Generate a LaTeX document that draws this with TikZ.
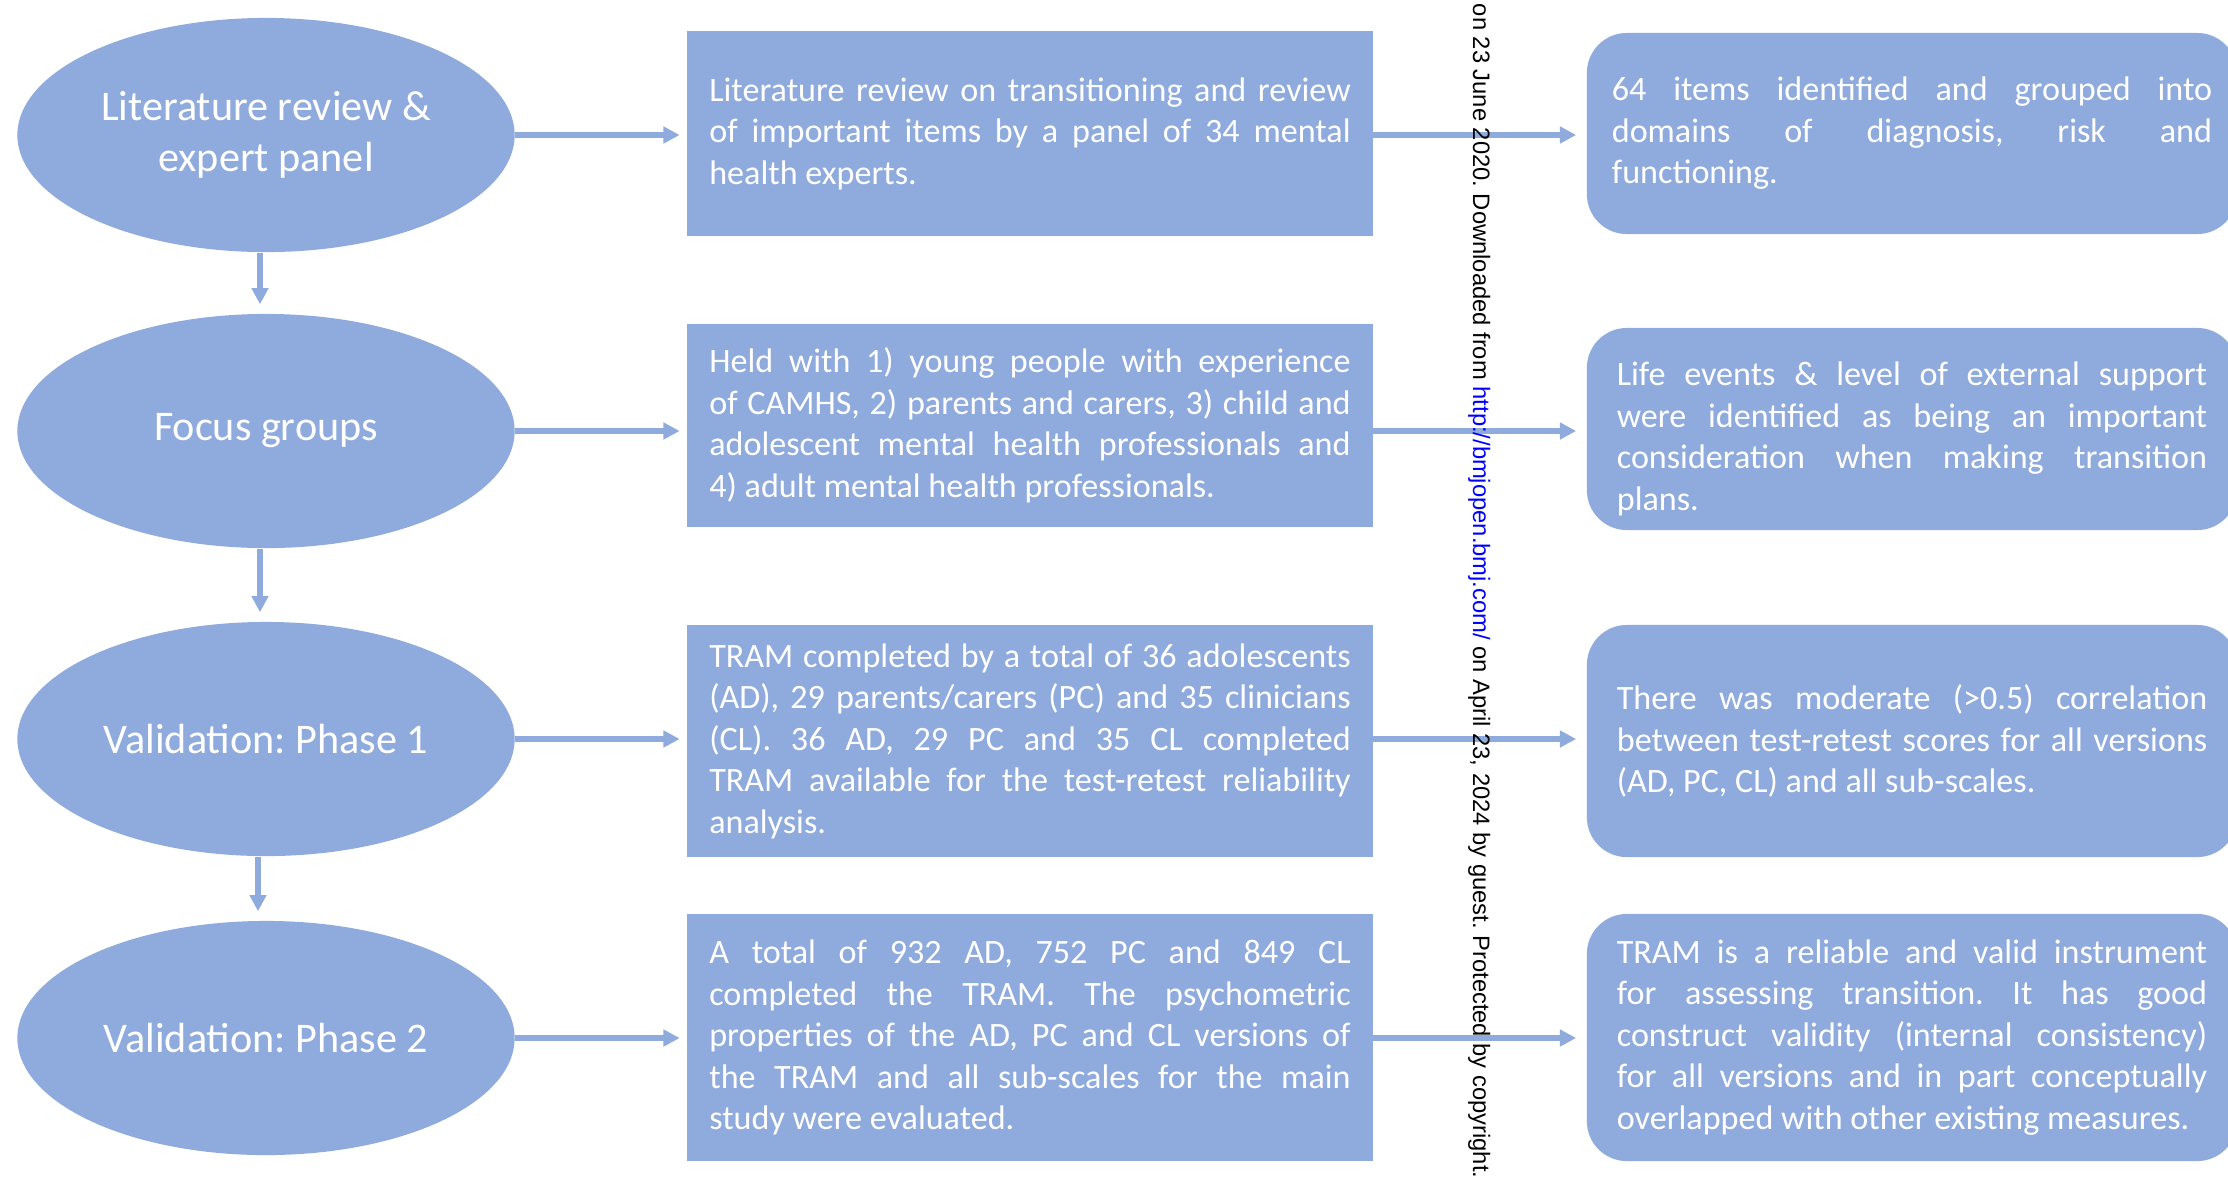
\documentclass[tikz,border=0pt]{standalone}
\usepackage{fontspec}
\setmainfont{Carlito}
\newfontfamily\wmfont{Liberation Sans}
\usetikzlibrary{arrows.meta, shapes.geometric}
\definecolor{boxblue}{HTML}{8FAADC}
\definecolor{linkblue}{HTML}{0000FF}
\tikzset{>={Triangle[length=4.6pt, width=4.6pt]}}
\frenchspacing
\hbadness=10000
\hfuzz=3pt

\begin{document}
\begin{tikzpicture}[x=.01cm, y=-.01cm,
    stage/.style={ellipse, fill=boxblue, text=white, minimum width=4.97cm, minimum height=2.34cm, inner sep=0pt, align=center, font=\fontsize{12}{14.5}\selectfont},
    detail/.style={rectangle, fill=boxblue, text=white, text width=6.41cm, inner xsep=.22cm, align=justify, font=\fontsize{9.7}{11.8}\selectfont},
    result/.style={detail, rounded corners=.4cm, text width=5.9cm, inner xsep=.3cm},
    link/.style={boxblue, line width=1.6pt, ->}]
    \clip(0, 0)rectangle(2228, 1181);
    % stages
    \node[stage](lit)at(266, 135){Literature review \&\\expert panel};
    \node[stage](focus)at(266, 431){Focus groups};
    \node[stage](val1)at(266, 739){Validation: Phase 1};
    \node[stage](val2)at(266, 1038){Validation: Phase 2};
    % what was done
    \node[detail, minimum height=2.05cm](litdet)at(1030, 133.5){Literature review on transitioning and review\linebreak of important items by a panel of 34 mental\linebreak health experts.};
    \node[detail, minimum height=2.03cm](focusdet)at(1030, 425.5){Held with 1) young people with experience\linebreak of CAMHS, 2) parents and carers, 3) child and\linebreak adolescent mental health professionals and\linebreak 4) adult mental health professionals.};
    \node[detail, minimum height=2.32cm](valdet1)at(1030, 741){TRAM completed by a total of 36 adolescents\linebreak (AD), 29 parents/carers (PC) and 35 clinicians\linebreak (CL). 36 AD, 29 PC and 35 CL completed\linebreak TRAM available for the test-retest reliability\linebreak analysis.};
    \node[detail, minimum height=2.47cm](valdet2)at(1030, 1037.5){A total of 932 AD, 752 PC and 849 CL\linebreak completed the TRAM. The psychometric\linebreak properties of the AD, PC and CL versions of\linebreak the TRAM and all sub-scales for the main\linebreak study were evaluated.};
    % what came out
    \node[result, minimum height=2.01cm, text width=6cm, inner xsep=.25cm](litres)at(1912, 133.5){64 items identified and grouped into\linebreak domains of diagnosis, risk and\linebreak functioning.};
    \node[result, minimum height=2.02cm](focusres)at(1912, 429){\rule{0pt}{12.3pt}Life events \& level of external support\linebreak were identified as being an important\linebreak consideration when making transition\linebreak plans.};
    \node[result, minimum height=2.32cm](valres1)at(1912, 741){There was moderate (>0.5) correlation\linebreak between test-retest scores for all versions\linebreak (AD, PC, CL) and all sub-scales.};
    \node[result, minimum height=2.47cm](valres2)at(1912, 1037.5){TRAM is a reliable and valid instrument\linebreak for assessing transition. It has good\linebreak construct validity (internal consistency)\linebreak for all versions and in part conceptually\linebreak overlapped with other existing measures.};
    % arrows down
    \draw[link, shorten >=.09cm]([xshift=-.06cm]lit.south)--([xshift=-.06cm]focus.north);
    \draw[link, shorten >=.09cm]([xshift=-.06cm]focus.south)--([xshift=-.06cm]val1.north);
    \draw[link, shorten >=.09cm]([xshift=-.08cm]val1.south)--([xshift=-.08cm]val2.north);
    % arrows across
    \draw[link, shorten >=.07cm](lit.east)--(lit.east-|litdet.west);
    \draw[link, shorten >=.07cm](focus.east)--(focus.east-|focusdet.west);
    \draw[link, shorten >=.07cm](val1.east)--(val1.east-|valdet1.west);
    \draw[link, shorten >=.07cm](val2.east)--(val2.east-|valdet2.west);
    \draw[link, shorten >=.1cm](litdet.east|-lit.east)--(lit.east-|litres.west);
    \draw[link, shorten >=.1cm](focusdet.east|-focus.east)--(focus.east-|focusres.west);
    \draw[link, shorten >=.1cm](valdet1.east|-val1.east)--(val1.east-|valres1.west);
    \draw[link, shorten >=.1cm](valdet2.east|-val2.east)--(val2.east-|valres2.west);
    % download stamp
    \node[rotate=-90, anchor=base east, inner sep=0pt, font=\wmfont\fontsize{6.75}{8}\selectfont](stamp)at(1473, 1179){on 23 June 2020. Downloaded from \textcolor{linkblue}{http://bmjopen.bmj.com/} on April 23, 2024 by guest. Protected by copyright.};
\end{tikzpicture}
\end{document}
